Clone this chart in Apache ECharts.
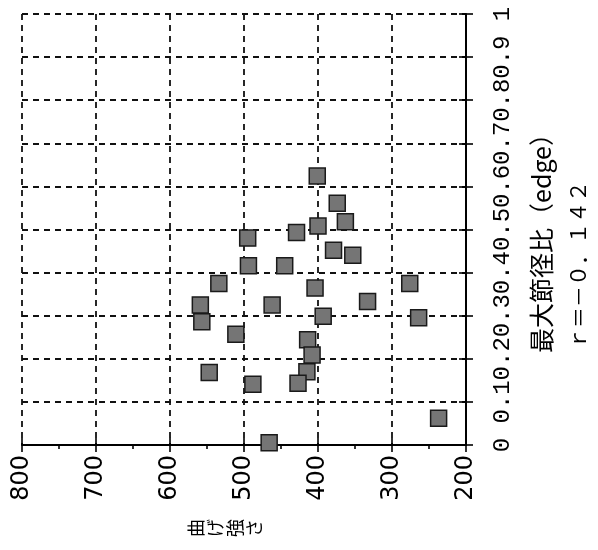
<!DOCTYPE html>
<html>
<head>
<meta charset="utf-8">
<script src="https://cdn.jsdelivr.net/npm/echarts@6/dist/echarts.min.js"></script>
<style>html,body{margin:0;padding:0;background:#fff;}#c{width:598px;height:550px;}</style>
</head>
<body>
<div id="c"></div>
<script>
// 曲げ強さ (bending strength)
var strength = [401, 374, 363, 400, 429, 495, 379, 353, 494, 445, 534, 404, 276, 462, 333, 559, 557, 393, 264, 511, 414, 408, 415, 427, 547, 488, 237, 466];
// 最大節径比 (edge)
var ratio = [0.624, 0.561, 0.518, 0.508, 0.493, 0.480, 0.452, 0.440, 0.416, 0.416, 0.375, 0.364, 0.375, 0.325, 0.333, 0.325, 0.286, 0.299, 0.295, 0.257, 0.244, 0.209, 0.170, 0.143, 0.168, 0.141, 0.062, 0.005];
var xTickLabels = ['200', '300', '400', '500', '600', '700', '800'];
var yTickLabels = ['0', '0.1', '0.2', '0.3', '0.4', '0.5', '0.6', '0.7', '0.8', '0.9', '1'];
var xName = '曲げ強さ';
var yName = '最大節径比（edge）';
var rText = 'ｒ＝－０．１４２';

var pts = strength.map(function (s, i) { return [s, ratio[i]]; });
var chart = echarts.init(document.getElementById('c'));
var dash = { color: '#111', width: 1.8, type: [6, 5] };
var graphics = xName.split('').map(function (ch, i) {
  return { type: 'text', x: 196 + i * 19.5, y: 528, rotation: Math.PI / 2,
    style: { text: ch, fill: '#000', fontSize: 18, fontFamily: 'Noto Sans CJK JP', align: 'center', verticalAlign: 'middle' } };
});
graphics.push(
  { type: 'text', x: 541, y: 237, rotation: Math.PI / 2,
    style: { text: yName, fill: '#000', fontSize: 25, fontFamily: 'Noto Sans CJK JP', align: 'center', verticalAlign: 'middle' } },
  { type: 'text', x: 578, y: 265, rotation: Math.PI / 2,
    style: { text: rText, fill: '#000', fontSize: 21, fontFamily: 'Noto Sans CJK JP', align: 'center', verticalAlign: 'middle' } }
);
chart.setOption({
  animation: false,
  backgroundColor: '#fff',
  grid: { left: 22, right: 132, top: 14, bottom: 105 },
  xAxis: [{
    type: 'value', inverse: true, min: 200, max: 800, interval: 100,
    axisLine: { show: true, onZero: false, lineStyle: { color: '#000', width: 2 } },
    axisTick: { show: true, inside: false, length: 7, lineStyle: { color: '#000', width: 1.6 } },
    minorTick: { show: true, splitNumber: 2, length: 4, lineStyle: { color: '#000', width: 1.6 } },
    axisLabel: {
      rotate: 90, margin: 10, color: '#000', fontSize: 24, fontFamily: 'DejaVu Sans',
      formatter: function (v) { return xTickLabels[Math.round((v - 200) / 100)]; }
    },
    splitLine: { show: true, lineStyle: dash }
  }, {
    type: 'value', inverse: true, min: 200, max: 800, interval: 100, position: 'bottom',
    axisLine: { show: false, onZero: false },
    axisTick: { show: true, inside: true, length: 7, lineStyle: { color: '#000', width: 1.6 } },
    axisLabel: { show: false }, splitLine: { show: false }
  }],
  yAxis: [{
    type: 'value', position: 'right', min: 0, max: 1, interval: 0.1,
    axisLine: { show: true, onZero: false, lineStyle: { color: '#000', width: 2 } },
    axisTick: { show: true, inside: false, length: 7, lineStyle: { color: '#000', width: 1.6 } },
    axisLabel: {
      rotate: 90, margin: 25, color: '#000', fontSize: 24, fontFamily: 'Liberation Mono',
      formatter: function (v) { return yTickLabels[Math.round(v * 10)]; }
    },
    splitLine: { show: true, lineStyle: dash }
  }, {
    type: 'value', position: 'right', min: 0, max: 1, interval: 0.1,
    axisLine: { show: false, onZero: false },
    axisTick: { show: true, inside: true, length: 7, lineStyle: { color: '#000', width: 1.6 } },
    axisLabel: { show: false }, splitLine: { show: false }
  }],
  graphic: graphics,
  series: [{
    type: 'scatter', xAxisIndex: 0, yAxisIndex: 0, data: pts,
    symbol: 'rect', symbolSize: 16, clip: false,
    itemStyle: { color: '#757575', borderColor: '#1a1a1a', borderWidth: 1.5, opacity: 1 }
  }]
});
</script>
</body>
</html>
